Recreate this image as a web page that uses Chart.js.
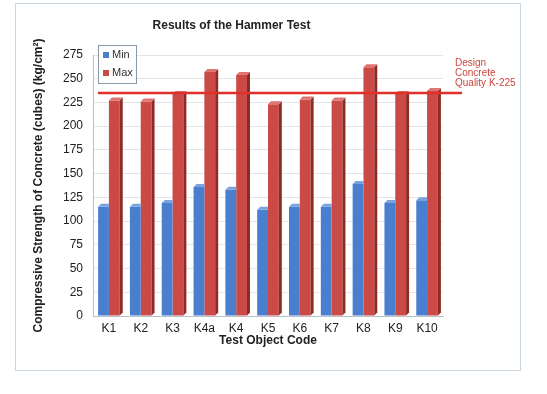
<!DOCTYPE html>
<html lang="en">
<head>
    <meta charset="UTF-8">
    <title>Results of the Hammer Test</title>
    <script src="https://cdn.jsdelivr.net/npm/chart.js"></script>
    <style>
        body { margin: 0; background: #fff; }
        #wrap { position: relative; width: 547px; height: 394px; }
        #frame { position: absolute; left: 15px; top: 3px; width: 504px; height: 366px; border: 1px solid #c9d6df; }
        canvas { position: absolute; left: 0; top: 0; }
    </style>
</head>
<body>
    <div id="wrap">
        <div id="frame"></div>
        <canvas id="myChart" width="547" height="394"></canvas>
    </div>

    <script>
        const categories = ['K1', 'K2', 'K3', 'K4a', 'K4', 'K5', 'K6', 'K7', 'K8', 'K9', 'K10'];
        const minValues = [115, 115, 119, 136, 133, 112, 115, 115, 139, 119, 122];
        const maxValues = [227, 226, 234, 257, 254, 223, 228, 227, 262, 234, 237];
        const designQuality = 235;
        const designLabel = ['Design', 'Concrete', 'Quality K-225'];

        const fontFamily = "Arial, 'Liberation Sans', sans-serif";

        // darker side and top faces so the bars look a bit like the 3d excel ones
        // (blue side is hidden behind the red bar, so only red gets a side)
        const barDepth = {
            id: 'barDepth',
            afterDatasetsDraw(chart) {
                const ctx = chart.ctx;
                const dx = 3, dy = -3;
                chart.data.datasets.forEach(function (ds, i) {
                    chart.getDatasetMeta(i).data.forEach(function (bar) {
                        const p = bar.getProps(['x', 'y', 'width', 'base'], true);
                        const r = p.x + p.width / 2;
                        const l = p.x - p.width / 2;
                        ctx.save();
                        if (ds.sideColor) {
                            ctx.fillStyle = ds.sideColor;
                            ctx.beginPath();
                            ctx.moveTo(r, p.y);
                            ctx.lineTo(r + dx, p.y + dy);
                            ctx.lineTo(r + dx, p.base + dy);
                            ctx.lineTo(r, p.base);
                            ctx.closePath();
                            ctx.fill();
                        }
                        ctx.fillStyle = ds.topColor;
                        ctx.beginPath();
                        ctx.moveTo(l, p.y);
                        ctx.lineTo(l + dx, p.y + dy);
                        ctx.lineTo(r + (ds.sideColor ? dx : 0), p.y + dy);
                        ctx.lineTo(r, p.y);
                        ctx.closePath();
                        ctx.fill();
                        ctx.restore();
                    });
                });
            }
        };

        // red design line, its note on the right, and the boxed legend
        const extras = {
            id: 'extras',
            afterDraw(chart) {
                const ctx = chart.ctx;
                const area = chart.chartArea;
                const yScale = chart.scales.y;
                const yLine = yScale.getPixelForValue(designQuality);

                ctx.save();
                ctx.strokeStyle = '#e0302a';
                ctx.lineWidth = 2.5;
                ctx.beginPath();
                ctx.moveTo(area.left + 5, yLine);
                ctx.lineTo(area.right + 19, yLine);
                ctx.stroke();

                ctx.fillStyle = '#c9463f';
                ctx.font = '10px ' + fontFamily;
                ctx.textBaseline = 'middle';
                ctx.textAlign = 'left';
                designLabel.forEach(function (t, i) {
                    ctx.fillText(t, area.right + 12, 63 + i * 10.3);
                });

                // legend
                const lx = area.left + 5, ly = 45;
                ctx.fillStyle = '#fff';
                ctx.fillRect(lx, ly, 38, 38);
                ctx.strokeStyle = '#8a98a8';
                ctx.lineWidth = 1;
                ctx.strokeRect(lx + 0.5, ly + 0.5, 38, 38);
                ctx.font = '11px ' + fontFamily;
                chart.data.datasets.forEach(function (ds, i) {
                    const cy = ly + 10 + i * 18;
                    ctx.fillStyle = ds.backgroundColor;
                    ctx.fillRect(lx + 5, cy - 3, 6, 6);
                    ctx.fillStyle = '#333';
                    ctx.fillText(ds.label, lx + 14, cy);
                });
                ctx.restore();
            }
        };

        const ctx = document.getElementById('myChart').getContext('2d');
        new Chart(ctx, {
            type: 'bar',
            data: {
                labels: categories,
                datasets: [{
                    label: 'Min',
                    data: minValues,
                    backgroundColor: '#4a7fcf',
                    topColor: '#7aa3e0',
                    categoryPercentage: 0.68,
                    barPercentage: 1
                }, {
                    label: 'Max',
                    data: maxValues,
                    backgroundColor: '#cc4a46',
                    sideColor: '#8e2a27',
                    topColor: '#de7572',
                    categoryPercentage: 0.68,
                    barPercentage: 1
                }]
            },
            options: {
                responsive: false,
                animation: false,
                layout: { padding: { left: 20, right: 104, top: 4, bottom: 43 } },
                plugins: {
                    legend: { display: false },
                    tooltip: { enabled: false },
                    title: {
                        display: true,
                        text: 'Results of the Hammer Test',
                        color: '#222',
                        font: { family: fontFamily, size: 12, weight: 'bold' },
                        padding: { top: 14, bottom: 22.6 }
                    }
                },
                scales: {
                    x: {
                        grid: { display: false, drawTicks: false },
                        border: { color: '#b8c0c8' },
                        ticks: { color: '#222', font: { family: fontFamily, size: 12 }, padding: 5, maxRotation: 0 },
                        title: {
                            display: true,
                            text: 'Test Object Code',
                            color: '#222',
                            font: { family: fontFamily, size: 12, weight: 'bold' },
                            padding: { top: 0, bottom: 3 }
                        },
                        afterFit(scale) { scale.height = 35; }
                    },
                    y: {
                        min: 0,
                        max: 275,
                        grid: { color: '#e2e6ea', drawTicks: false },
                        border: { color: '#b8c0c8' },
                        ticks: { stepSize: 25, color: '#222', font: { family: fontFamily, size: 12 }, padding: 10 },
                        title: {
                            display: true,
                            text: 'Compressive Strength of Concrete (cubes) (kg/cm²)',
                            color: '#222',
                            font: { family: fontFamily, size: 12, weight: 'bold' },
                            padding: { top: 11, bottom: 0 }
                        },
                        afterFit(scale) { scale.width = 73; }
                    }
                }
            },
            plugins: [barDepth, extras]
        });
    </script>
</body>
</html>
